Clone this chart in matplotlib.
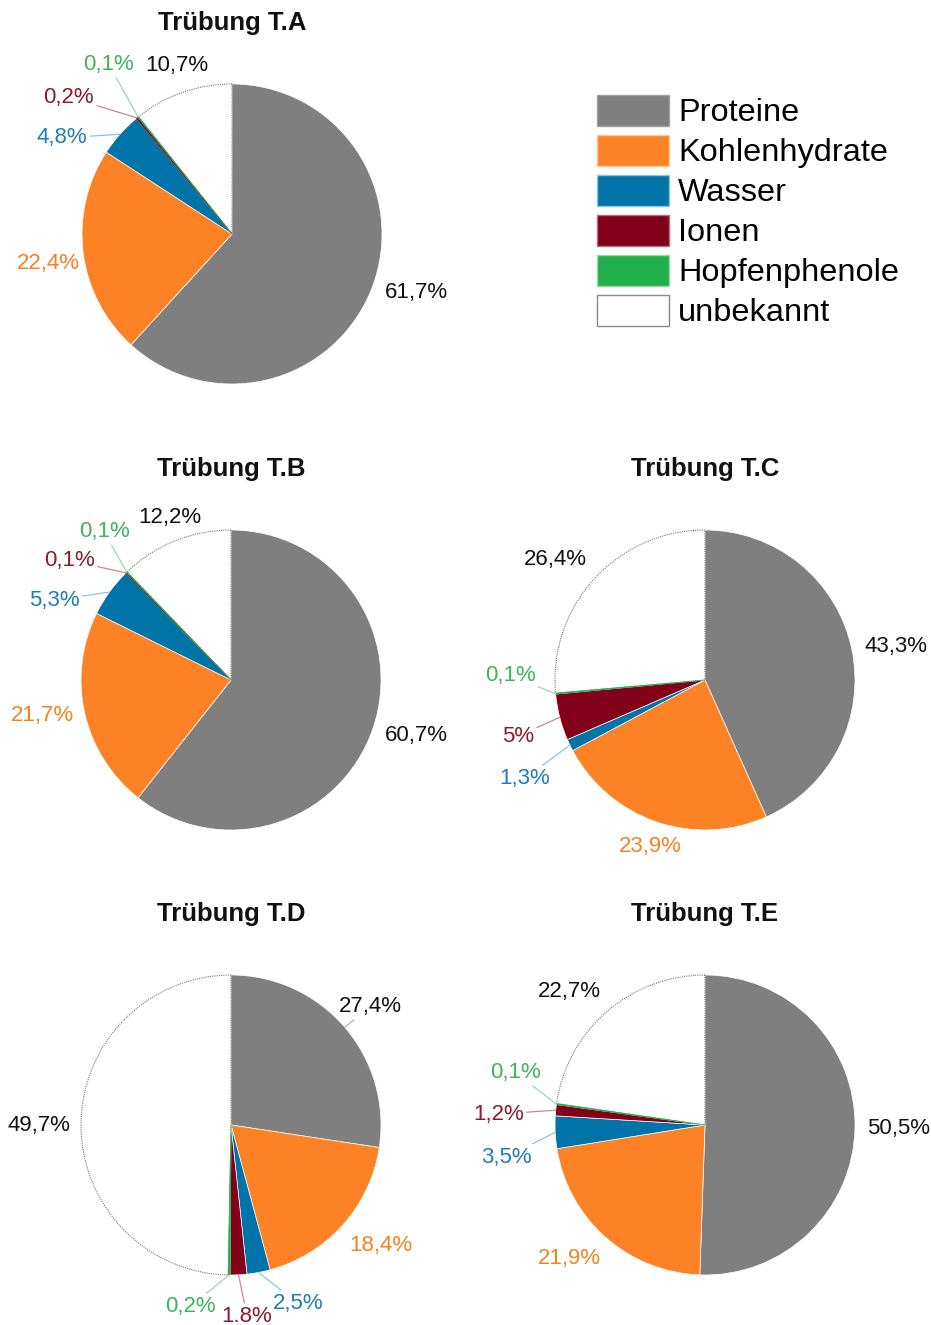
import matplotlib
matplotlib.use("Agg")
import matplotlib.pyplot as plt
from matplotlib.patches import Patch
import numpy as np

plt.rcParams['font.family'] = ['Liberation Sans', 'DejaVu Sans']

# composition of each turbidity sample (percent)
components = ['Proteine', 'Kohlenhydrate', 'Wasser', 'Ionen', 'Hopfenphenole', 'unbekannt']
titles = ['Trübung T.A', 'Trübung T.B', 'Trübung T.C', 'Trübung T.D', 'Trübung T.E']
share_a = [61.7, 22.4, 4.8, 0.2, 0.1, 10.7]
share_b = [60.7, 21.7, 5.3, 0.1, 0.1, 12.2]
share_c = [43.3, 23.9, 1.3, 5.0, 0.1, 26.4]
share_d = [27.4, 18.4, 2.5, 1.8, 0.2, 49.7]
share_e = [50.5, 21.9, 3.5, 1.2, 0.1, 22.7]
labels_a = ['61,7%', '22,4%', '4,8%', '0,2%', '0,1%', '10,7%']
labels_b = ['60,7%', '21,7%', '5,3%', '0,1%', '0,1%', '12,2%']
labels_c = ['43,3%', '23,9%', '1,3%', '5%', '0,1%', '26,4%']
labels_d = ['27,4%', '18,4%', '2,5%', '1.8%', '0,2%', '49,7%']
labels_e = ['50,5%', '21,9%', '3,5%', '1,2%', '0,1%', '22,7%']

fill_colors = ['#7f7f7f', '#fd8226', '#0073a8', '#83001a', '#21b04b', '#ffffff']
text_colors = ['#111111', '#f5821f', '#1f7db3', '#8a1a2e', '#3db45a', '#111111']
line_colors = ['#b0b0b0', '#f9b27a', '#8cc3dd', '#c48a93', '#9ad9aa', '#b0b0b0']

# layout in pixels (figure is 931 x 1325)
W, H = 931, 1325
R = 150
centers = [(232, 234), (231, 680), (705, 680), (231, 1125), (705, 1125)]

# label placement: angle (deg, ccw from 3 o'clock), distance in radii, leader line
place_a = [(-17.7, 1.29, False), (189, 1.24, False), (150.5, 1.30, True),
           (140, 1.42, True), (126, 1.40, True), (108, 1.18, False)]
place_b = [(-16.8, 1.29, False), (190.8, 1.28, False), (155.6, 1.29, True),
           (143.5, 1.34, True), (130.6, 1.30, True), (110.5, 1.16, False)]
place_c = [(9.9, 1.29, False), (252, 1.17, False), (208.6, 1.37, True),
           (196.7, 1.30, True), (178.8, 1.30, True), (141, 1.28, False)]
place_d = [(40.3, 1.22, True), (-38.9, 1.28, False), (-69.5, 1.27, True),
           (-85.2, 1.28, True), (257.3, 1.24, True), (180, 1.28, False)]
place_e = [(-0.9, 1.29, False), (224.6, 1.27, False), (189.2, 1.34, True),
           (177, 1.38, True), (164.6, 1.31, True), (135.4, 1.27, False)]

shares = [share_a, share_b, share_c, share_d, share_e]
labels = [labels_a, labels_b, labels_c, labels_d, labels_e]
places = [place_a, place_b, place_c, place_d, place_e]

fig = plt.figure(figsize=(W / 100, H / 100), dpi=100)
ax = fig.add_axes([0, 0, 1, 1])

for title, vals, labs, place, (cx, cy) in zip(titles, shares, labels, places, centers):
    y0 = H - cy
    wedges, _ = ax.pie(vals, colors=fill_colors, startangle=90, counterclock=False,
                       center=(cx, y0), radius=R,
                       wedgeprops=dict(edgecolor='white', linewidth=0.5))
    # very thin slices get an outline in their own colour so they stay visible
    for w, v, fc in zip(wedges[:-1], vals[:-1], fill_colors[:-1]):
        if v < 0.5:
            w.set_edgecolor(fc)
            w.set_zorder(w.get_zorder() + 0.1)
    wedges[-1].set_edgecolor('#777777')
    wedges[-1].set_linestyle((0, (1, 1)))
    wedges[-1].set_linewidth(0.8)

    for w, lab, (ang, dist, lead), tc, lc in zip(wedges, labs, place, text_colors, line_colors):
        tx = cx + dist * R * np.cos(np.radians(ang))
        ty = y0 + dist * R * np.sin(np.radians(ang))
        if lead:
            mid = np.radians((w.theta1 + w.theta2) / 2)
            px = cx + R * np.cos(mid)
            py = y0 + R * np.sin(mid)
            ax.annotate(lab, xy=(px, py), xytext=(tx, ty), ha='center', va='center',
                        fontsize=16, color=tc,
                        arrowprops=dict(arrowstyle='-', color=lc, lw=0.9,
                                        shrinkA=0, shrinkB=0))
        else:
            ax.text(tx, ty, lab, ha='center', va='center', fontsize=16, color=tc)

    ax.text(cx, y0 + 211, title, ha='center', va='center', fontsize=18.5,
            fontweight='bold', color='#111111')

ax.set_xlim(0, W)
ax.set_ylim(0, H)
ax.set_aspect('equal')
ax.axis('off')

legend_edges = ['#a0a0a0', '#ffc9a0', '#8cc3dd', '#b07080', '#9ad9aa', '#888888']
handles = [Patch(facecolor=fc, edgecolor=ec, linewidth=1.0, label=name)
           for fc, ec, name in zip(fill_colors, legend_edges, components)]
fig.legend(handles=handles, loc='upper left', bbox_to_anchor=(597 / W, 1 - 95 / H),
           frameon=False, fontsize=23.4, handlelength=2.2, handleheight=1.08,
           labelspacing=0.2, handletextpad=0.3, borderpad=0, borderaxespad=0)

fig.savefig('out.png', dpi=100, facecolor='white')
